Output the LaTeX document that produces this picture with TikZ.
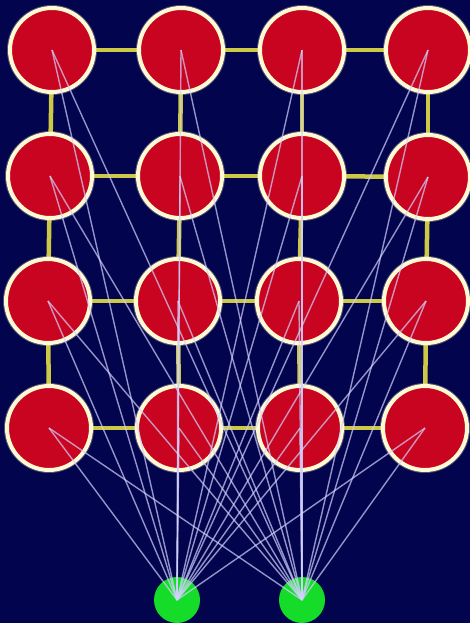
\documentclass[tikz,border=0pt]{standalone}
\definecolor{bgnavy}{RGB}{2,4,78}
\definecolor{redfill}{RGB}{200,4,32}
\definecolor{cream}{RGB}{255,250,212}
\definecolor{gridyellow}{RGB}{205,200,70}
\definecolor{greenfill}{RGB}{20,220,40}
\definecolor{linkcol}{RGB}{210,210,255}
\pgfdeclarelayer{back}
\pgfdeclarelayer{bg}
\pgfsetlayers{back,bg,main}
\tikzset{
  redc/.style={circle, fill=redfill, draw=cream, line width=4pt, minimum size=84pt, inner sep=0pt},
  glow/.style={circle, draw=cream, opacity=0.3, line width=2pt, minimum size=88pt, inner sep=0pt},
  greenc/.style={circle, fill=greenfill, minimum size=46pt, inner sep=0pt},
  gridline/.style={draw=gridyellow, line width=4.5pt},
  linkline/.style={draw=linkcol, opacity=0.7, line width=1.4pt}
}
\begin{document}
\begin{tikzpicture}[x=1pt,y=-1pt]
\begin{pgfonlayer}{back}
\fill[bgnavy] (0,0) rectangle (470,623);
\end{pgfonlayer}
\useasboundingbox (0,0) rectangle (470,623);
% red nodes
\foreach \n/\x/\y in {11/52/50,12/181/50,13/302/50,14/428/50,
                      21/50/176,22/180/176,23/302/176,24/428/177,
                      31/48/301,32/178/301,33/299/301,34/426/301,
                      41/49/428,42/179/428,43/300/428,44/425/428}{
  \node[glow] (h\n) at (\x,\y) {};
  \node[redc] (r\n) at (\x,\y) {};
}
% green nodes
\node[greenc] (g1) at (177,600) {};
\node[greenc] (g2) at (302,600) {};
% yellow grid
\begin{pgfonlayer}{bg}
\foreach \r in {1,2,3,4}{
  \draw[gridline] (r\r1) -- (r\r2);
  \draw[gridline] (r\r2) -- (r\r3);
  \draw[gridline] (r\r3) -- (r\r4);
}
\foreach \c in {1,2,3,4}{
  \draw[gridline] (r1\c) -- (r2\c);
  \draw[gridline] (r2\c) -- (r3\c);
  \draw[gridline] (r3\c) -- (r4\c);
}
\end{pgfonlayer}
% links
\foreach \r in {1,2,3,4}{
  \foreach \c in {1,2,3,4}{
    \draw[linkline] (r\r\c.center) -- (g1.center);
    \draw[linkline] (r\r\c.center) -- (g2.center);
  }
}
\end{tikzpicture}
\end{document}
